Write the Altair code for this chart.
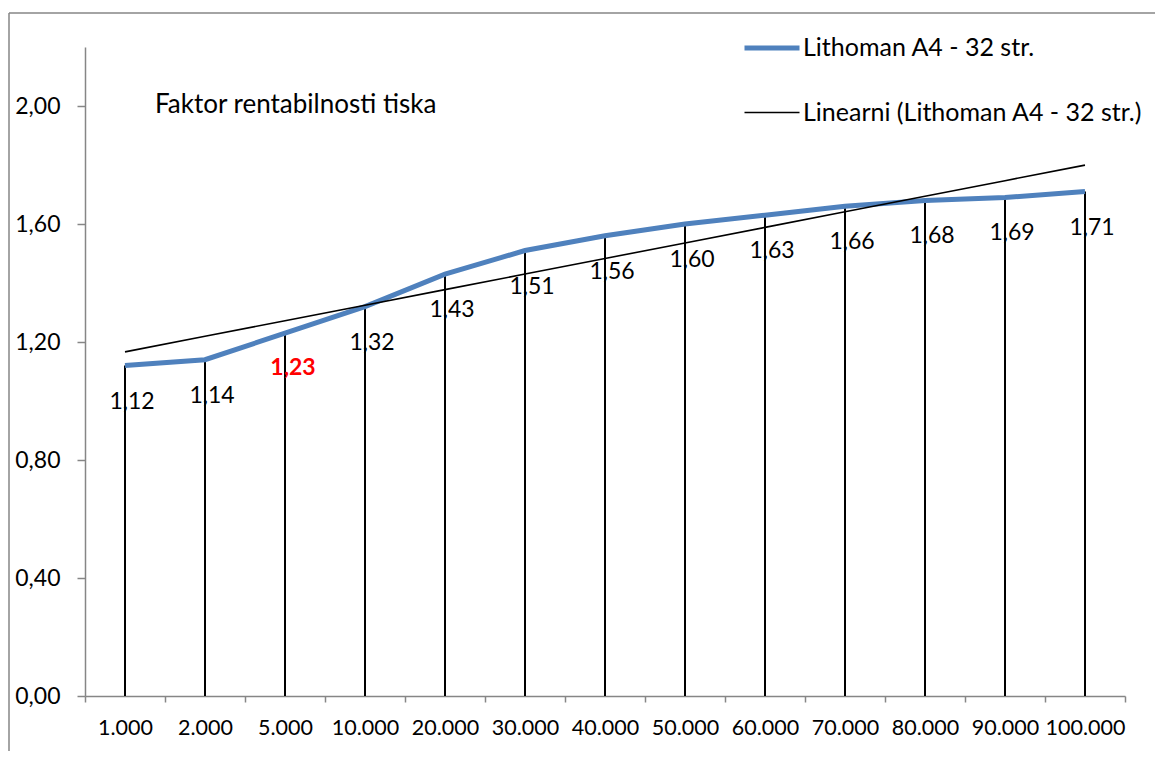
import altair as alt
import pandas as pd
import numpy as np

categories = ["1.000", "2.000", "5.000", "10.000", "20.000", "30.000", "40.000",
              "50.000", "60.000", "70.000", "80.000", "90.000", "100.000"]
values = [1.12, 1.14, 1.23, 1.32, 1.43, 1.51, 1.56, 1.60, 1.63, 1.66, 1.68, 1.69, 1.71]
highlight = ["5.000"]
series_name = "Lithoman A4 - 32 str."
trend_name = "Linearni (Lithoman A4 - 32 str.)"
y_ticks = [0.0, 0.4, 0.8, 1.2, 1.6, 2.0]
title_text = "Faktor rentabilnosti tiska"

# linear trendline fitted to the series (like Excel's linear trend)
idx = np.arange(1, len(values) + 1)
slope, intercept = np.polyfit(idx, values, 1)
trend = intercept + slope * idx

base_df = pd.DataFrame({
    "kat": categories,
    "val": values,
    "label": [f"{v:.2f}".replace(".", ",") for v in values],
    "hl": [c in highlight for c in categories],
})
long_df = pd.concat([
    pd.DataFrame({"kat": categories, "val": values, "series": series_name, "ord": idx}),
    pd.DataFrame({"kat": categories, "val": trend, "series": trend_name, "ord": idx}),
], ignore_index=True)

FONT = "Lato"
GREY = "#868686"
W, H = 1040, 649

x_enc = alt.X(
    "kat:N", sort=categories,
    scale=alt.Scale(type="band", paddingInner=0, paddingOuter=0),
    axis=alt.Axis(title=None, labelAngle=0, tickBand="extent", tickSize=6,
                  labelPadding=15, labelFont=FONT, labelFontSize=21.5,
                  labelColor="black", domainColor=GREY, tickColor=GREY,
                  domainWidth=1.5, tickWidth=1.5, grid=False),
)
y_scale = alt.Scale(domain=[0, 2.2], nice=False, zero=True)
y_axis = alt.Axis(title=None, values=y_ticks,
                  labelExpr="replace(format(datum.value, '.2f'), '.', ',')",
                  tickSize=8, labelPadding=17, labelFont=FONT, labelFontSize=23,
                  labelColor="black", domainColor=GREY, tickColor=GREY,
                  domainWidth=1.5, tickWidth=1.5, grid=False)

legend = alt.Legend(title=None, orient="none", legendX=657, legendY=-29,
                    symbolType="stroke", symbolSize=3025, labelLimit=0,
                    labelFont=FONT, labelFontSize=25, labelColor="black",
                    labelOffset=1, rowPadding=23)

drops = alt.Chart(base_df).mark_rule(color="black", strokeWidth=2).encode(
    x=x_enc,
    y=alt.Y("val:Q", scale=y_scale, axis=y_axis),
    y2=alt.datum(0),
)

lines = alt.Chart(long_df).mark_line().encode(
    x=x_enc,
    y=alt.Y("val:Q", scale=y_scale, axis=y_axis),
    color=alt.Color("series:N",
                    scale=alt.Scale(domain=[series_name, trend_name], range=["#4F81BD", "black"]),
                    legend=legend),
    strokeWidth=alt.StrokeWidth("series:N",
                                scale=alt.Scale(domain=[series_name, trend_name], range=[5, 1.6]),
                                legend=legend),
    order="ord:Q",
)

labels = alt.Chart(base_df).transform_filter("!datum.hl").mark_text(
    font=FONT, fontSize=23, color="black", dy=36, dx=7, baseline="middle", align="center"
).encode(x=x_enc, y=alt.Y("val:Q", scale=y_scale, axis=y_axis), text="label:N")

labels_hl = alt.Chart(base_df).transform_filter("datum.hl").mark_text(
    font=FONT, fontSize=23, fontWeight="bold", color="#FF0000", dy=35, dx=8,
    baseline="middle", align="center"
).encode(x=x_enc, y=alt.Y("val:Q", scale=y_scale, axis=y_axis), text="label:N")

title_df = pd.DataFrame({"t": [title_text]})
title_mark = alt.Chart(title_df).mark_text(
    font=FONT, fontSize=26, color="black", align="left", baseline="middle"
).encode(x=alt.value(70), y=alt.value(58), text="t:N")

one = pd.DataFrame({"b": [0]})
border_top = alt.Chart(one).mark_rule(color=GREY, strokeWidth=1.5).encode(
    x=alt.value(-76), x2=alt.value(1300), y=alt.value(-34))
border_left = alt.Chart(one).mark_rule(color=GREY, strokeWidth=1.5).encode(
    x=alt.value(-76), y=alt.value(-34), y2=alt.value(900))

chart = alt.layer(border_top, border_left, drops, lines, labels, labels_hl, title_mark).properties(
    width=W, height=H,
    padding={"left": 77, "top": 39, "right": 30, "bottom": 55},
    autosize=alt.AutoSizeParams(type="none"),
).configure_view(stroke=None)

chart.save("out.html", embed_options={"renderer": "svg", "actions": False})
